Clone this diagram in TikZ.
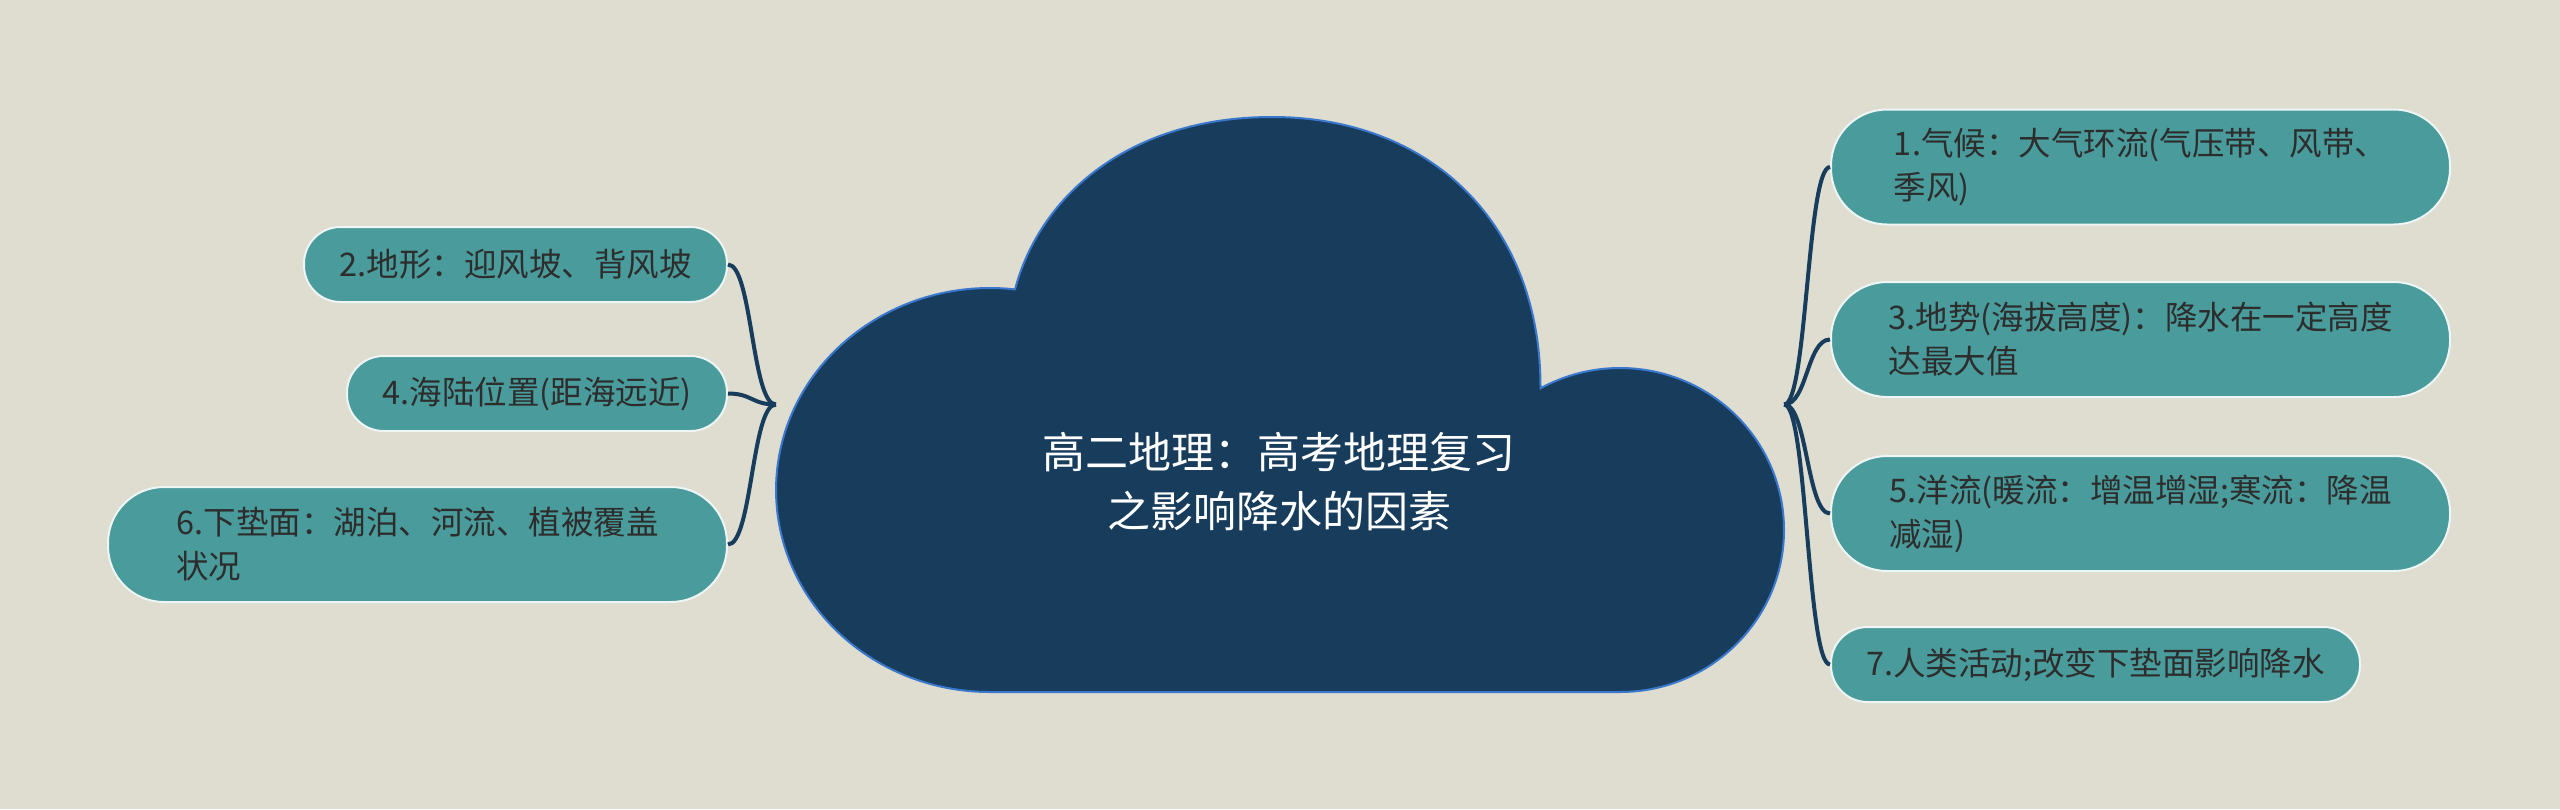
\documentclass[tikz,border=0pt]{standalone}
\usepackage{fontspec}
\setmainfont{Noto Sans CJK SC}
\usepackage{tikz}

\definecolor{bgpaper}{RGB}{222,221,208}
\definecolor{cloudnavy}{RGB}{23,60,92}
\definecolor{cloudedge}{RGB}{58,120,205}
\definecolor{leafteal}{RGB}{74,155,155}
\definecolor{leafink}{RGB}{45,45,45}

\tikzset{
  branch/.style={fill=leafteal, draw=white!90!leafteal, line width=2pt, text=leafink,
    align=left, inner sep=0pt, font=\fontsize{32.5}{44}\selectfont},
  twoline/.style={branch, minimum height=115pt, rounded corners=56pt},
  oneline/.style={branch, minimum height=75pt, rounded corners=36.5pt},
  link/.style={draw=cloudnavy, line width=4pt},
}

\begin{document}
\begin{tikzpicture}[x=1pt,y=1pt,yscale=-1,xscale=1]
    
    \useasboundingbox (0,0) rectangle (2560,809);
    \fill[bgpaper] (0,0) rectangle (2560,809);
    
    % cloud
    \draw[fill=cloudnavy, draw=cloudedge, line width=2pt] (1015,289.4)
      arc[start angle=-83.3, end angle=-270, x radius=214, y radius=202] -- (1620,692)
      arc[start angle=90, end angle=-119, x radius=164, y radius=162]
      .. controls (1541,226) and (1433,117) .. (1272,117)
      .. controls (1130,117) and (1040,195) .. (1015,289.4) -- cycle;
    \node[minimum width=1008pt, minimum height=575pt, inner sep=0pt] (root) at (1280,404.5) {};
    \node[text=white, align=center, font=\fontsize{43}{59}\selectfont] (title) at (1279,482) {高二地理：高考地理复习\\之影响降水的因素};
    
    % right
    \node[twoline, minimum width=619pt, anchor=west] (n1) at (1830,167) {1.气候：大气环流(气压带、风带、\\季风)};
    \node[twoline, minimum width=619pt, anchor=west] (n3) at (1830,339.5) {3.地势(海拔高度)：降水在一定高度\\达最大值};
    \node[twoline, minimum width=619pt, anchor=west] (n5) at (1830,513.5) {5.洋流(暖流：增温增湿;寒流：降温\\减湿)};
    \node[oneline, minimum width=529pt, anchor=west] (n7) at (1830,664.5) {7.人类活动;改变下垫面影响降水};
    
    % left
    \node[oneline, minimum width=423pt, anchor=east] (n2) at (728,264.5) {2.地形：迎风坡、背风坡};
    \node[oneline, minimum width=380pt, anchor=east] (n4) at (728,393.5) {4.海陆位置(距海远近)};
    \node[twoline, minimum width=619pt, anchor=east] (n6) at (728,544.5) {6.下垫面：湖泊、河流、植被覆盖\\状况};
    
    \draw[link] (root.east) .. controls +(23,0) and +(-23,0) .. (n1.west);
    \draw[link] (root.east) .. controls +(23,0) and +(-23,0) .. (n3.west);
    \draw[link] (root.east) .. controls +(23,0) and +(-23,0) .. (n5.west);
    \draw[link] (root.east) .. controls +(23,0) and +(-23,0) .. (n7.west);
    \draw[link] (root.west) .. controls +(-24,0) and +(24,0) .. (n2.east);
    \draw[link] (root.west) .. controls +(-24,0) and +(24,0) .. (n4.east);
    \draw[link] (root.west) .. controls +(-24,0) and +(24,0) .. (n6.east);
    
\end{tikzpicture}
\end{document}
